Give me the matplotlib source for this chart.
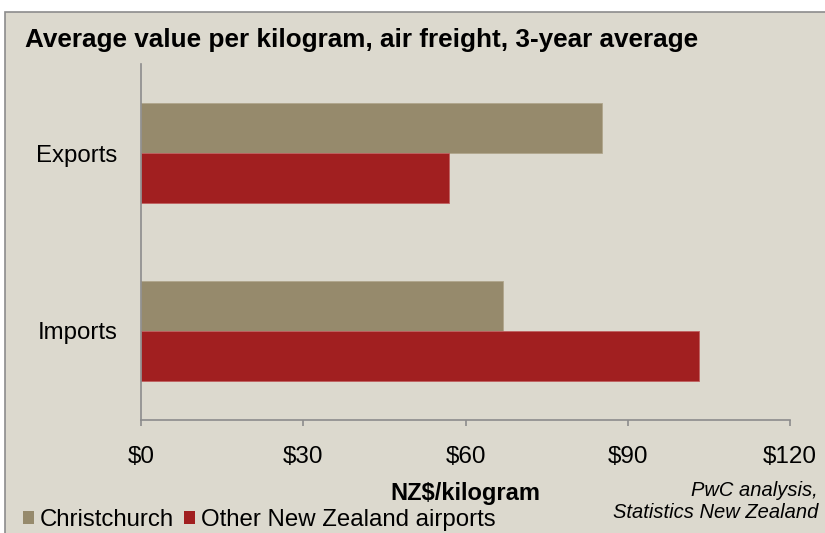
import matplotlib.pyplot as plt
from matplotlib.patches import Rectangle, Patch

# data
categories = ['Imports', 'Exports']
series_names = ['Christchurch', 'Other New Zealand airports']
christchurch = [66.9, 85.3]
other_airports = [103.2, 57.0]
xticks = [0, 30, 60, 90, 120]
xtick_labels = ['$0', '$30', '$60', '$90', '$120']

bg = '#DCD9CE'
tan = '#968A6C'
red = '#A11F20'
grey = '#8C8C8C'

plt.rcParams['font.family'] = ['Liberation Sans', 'DejaVu Sans']

fig = plt.figure(figsize=(8.25, 5.33), dpi=100)
fig.patch.set_facecolor('white')

# chart panel with grey border, cut off at right and bottom
panel = Rectangle((5 / 825, -0.02), 1.05, 1 - 12 / 533 + 0.02, transform=fig.transFigure,
                  facecolor=bg, edgecolor=grey, linewidth=1.2, zorder=-10)
fig.patches.append(panel)

ax = fig.add_axes([141 / 825, 1 - 420 / 533, 649 / 825, 356 / 533])
ax.set_facecolor('none')

h = 0.28
y = range(len(categories))
ax.barh([i + h / 2 for i in y], christchurch, height=h, color=tan, edgecolor='#B0A68C', linewidth=0.6)
ax.barh([i - h / 2 for i in y], other_airports, height=h, color=red, edgecolor='#C06060', linewidth=0.6)

ax.set_xlim(0, 120)
ax.set_ylim(-0.5, 1.5)
ax.set_xticks(xticks)
ax.set_xticklabels(xtick_labels)
ax.set_yticks(list(y))
ax.set_yticklabels(categories)

for s in ['top', 'right']:
    ax.spines[s].set_visible(False)
for s in ['left', 'bottom']:
    ax.spines[s].set_color(grey)
    ax.spines[s].set_linewidth(1.2)

ax.tick_params(axis='x', direction='out', length=4, width=1.2, color=grey, pad=15, labelsize=17.5)
ax.tick_params(axis='y', length=0, pad=17, labelsize=17.3)

ax.set_xlabel('NZ$/kilogram', fontsize=17, fontweight='bold', labelpad=10)

fig.text(25 / 825, 1 - 40 / 533, 'Average value per kilogram, air freight, 3-year average',
         fontsize=18.8, fontweight='bold', va='center', ha='left')

handles = [Patch(facecolor=tan, edgecolor='none'), Patch(facecolor=red, edgecolor='none')]
fig.legend(handles, series_names, loc='center left', bbox_to_anchor=(23 / 825, 1 - 520 / 533),
           ncol=2, frameon=False, fontsize=17.3, handlelength=0.46, handleheight=0.46,
           handletextpad=0.25, columnspacing=0.42, borderpad=0, borderaxespad=0)

fig.text(818 / 825, 1 - 502 / 533, 'PwC analysis,\nStatistics New Zealand', fontsize=14.5,
         style='italic', ha='right', va='center', linespacing=1.2)

fig.savefig('out.png', dpi=100, facecolor=fig.get_facecolor())
